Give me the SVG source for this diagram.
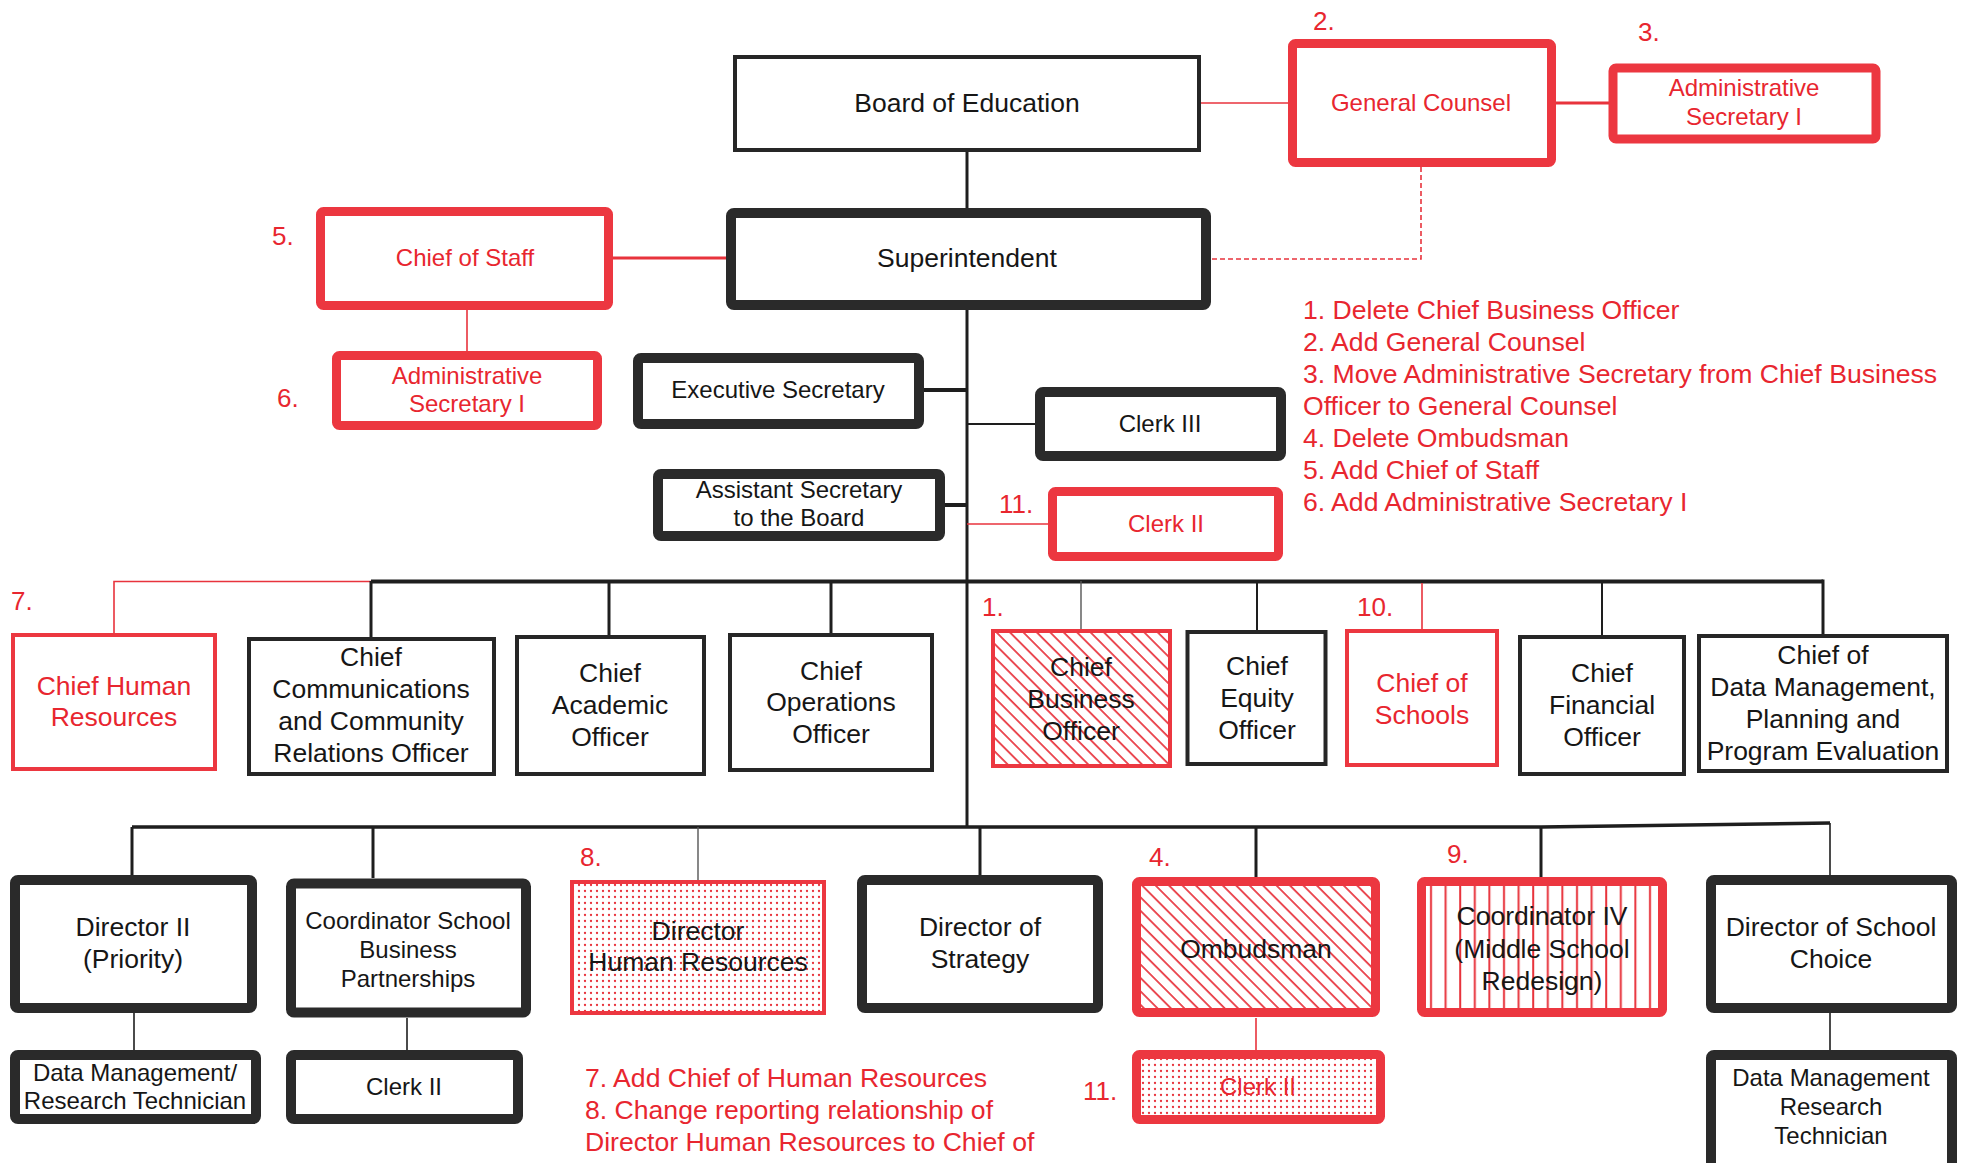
<svg xmlns="http://www.w3.org/2000/svg" width="1965" height="1163" viewBox="0 0 1965 1163">
<style>
text{font-family:"Liberation Sans",Arial,sans-serif;}
.t{fill:#161616;text-anchor:middle;font-size:26.5px;}
.s{font-size:24px;}
.rt{fill:#e8262f;}
.n{fill:#e8262f;font-size:26px;}
.nt{fill:#e8262f;font-size:26.6px;}
.box{fill:#fff;}
.bthin{stroke:#262626;stroke-width:4;}
.bthick{stroke:#2a2a2a;stroke-width:10;}
.rthick{stroke:#ec3740;stroke-width:9;}
.rthin{stroke:#ec3740;stroke-width:4;}
.cb{stroke:#1e1e1e;fill:none;}
.cr{stroke:#e8333c;fill:none;}
</style>
<defs>
<pattern id="hatch" patternUnits="userSpaceOnUse" width="9.5" height="9.5" patternTransform="rotate(-45)">
<rect width="9.5" height="9.5" fill="#fff"/>
<line x1="1" y1="0" x2="1" y2="9.5" stroke="#e8333c" stroke-width="1.7"/>
</pattern>
<pattern id="dots" patternUnits="userSpaceOnUse" width="6" height="6">
<rect width="6" height="6" fill="#fff"/>
<circle cx="3" cy="3" r="1.15" fill="#e8333c"/>
</pattern>
<pattern id="vstripe" patternUnits="userSpaceOnUse" width="14.6" height="20" x="1424">
<rect width="14.6" height="20" fill="#fff"/>
<line x1="7" y1="0" x2="7" y2="20" stroke="#e8333c" stroke-width="2"/>
</pattern>
</defs>

<g id="connectors">
<line class="cr" x1="1201" y1="103" x2="1288" y2="103" stroke-width="1.6"/>
<line class="cr" x1="1556" y1="103" x2="1609" y2="103" stroke-width="3"/>
<polyline class="cr" points="1421,167 1421,259 1211,259" stroke-width="1.6" stroke-dasharray="5,3"/>
<line class="cb" x1="967" y1="152" x2="967" y2="208" stroke-width="3"/>
<line class="cr" x1="613" y1="258" x2="726" y2="258" stroke-width="3"/>
<line class="cr" x1="467" y1="310" x2="467" y2="351" stroke-width="1.6"/>
<line class="cb" x1="967" y1="310" x2="967" y2="827" stroke-width="3"/>
<line class="cb" x1="924" y1="390" x2="967" y2="390" stroke-width="4"/>
<line class="cb" x1="967" y1="424" x2="1035" y2="424" stroke-width="2"/>
<line class="cb" x1="945" y1="505" x2="967" y2="505" stroke-width="4"/>
<line class="cr" x1="967" y1="524" x2="1048" y2="524" stroke-width="1.6"/>
<line class="cb" x1="371" y1="581.5" x2="1823" y2="581.5" stroke-width="4"/>
<polyline class="cr" points="371,581.5 114,581.5 114,633" stroke-width="1.6"/>
<line class="cb" x1="371" y1="581" x2="371" y2="637" stroke-width="3"/>
<line class="cb" x1="609" y1="581" x2="609" y2="635" stroke-width="3"/>
<line class="cb" x1="831" y1="581" x2="831" y2="633" stroke-width="3"/>
<line x1="1081" y1="581" x2="1081" y2="629" stroke="#555" stroke-width="1.4"/>
<line class="cb" x1="1257" y1="581" x2="1257" y2="630" stroke-width="2"/>
<line class="cr" x1="1422" y1="583" x2="1422" y2="629" stroke-width="1.6"/>
<line class="cb" x1="1602" y1="581" x2="1602" y2="635" stroke-width="2"/>
<line class="cb" x1="1823" y1="579.5" x2="1823" y2="634" stroke-width="3"/>
<polyline class="cb" points="132,827 1541,827 1830,823" stroke-width="3.5"/>
<line class="cb" x1="132" y1="827" x2="132" y2="875" stroke-width="3"/>
<line class="cb" x1="134" y1="1013" x2="134" y2="1050" stroke-width="1.6"/>
<line class="cb" x1="373" y1="827" x2="373" y2="878" stroke-width="3"/>
<line class="cb" x1="407" y1="1018" x2="407" y2="1050" stroke-width="1.6"/>
<line x1="698" y1="827" x2="698" y2="880" stroke="#555" stroke-width="1.4"/>
<line class="cb" x1="980" y1="827" x2="980" y2="875" stroke-width="3"/>
<line class="cb" x1="1256" y1="827" x2="1256" y2="877" stroke-width="3"/>
<line class="cr" x1="1256" y1="1018" x2="1256" y2="1050" stroke-width="1.6"/>
<line class="cb" x1="1541" y1="827" x2="1541" y2="877" stroke-width="3"/>
<line class="cb" x1="1830" y1="823" x2="1830" y2="875" stroke-width="1.6"/>
<line class="cb" x1="1830" y1="1013" x2="1830" y2="1050" stroke-width="1.6"/>
</g>

<g id="board"><rect class="box bthin" x="735" y="57" width="464" height="93"/><text class="t" x="967" y="112">Board of Education</text></g>
<g id="general-counsel"><rect class="box rthick" x="1292.5" y="43.5" width="259" height="119" rx="3"/><text class="t s rt" x="1421" y="111">General Counsel</text><text class="n" x="1313" y="30">2.</text></g>
<g id="admin-sec-gc"><rect class="box rthick" x="1613" y="68" width="263" height="71" rx="3"/><text class="t s rt" x="1744" y="96">Administrative</text><text class="t s rt" x="1744" y="125">Secretary I</text><text class="n" x="1638" y="41">3.</text></g>
<g id="superintendent"><rect class="box bthick" x="731" y="213" width="475" height="92" rx="3"/><text class="t" x="967" y="267">Superintendent</text></g>
<g id="chief-of-staff"><rect class="box rthick" x="320.5" y="211.5" width="288" height="94" rx="3"/><text class="t s rt" x="465" y="266">Chief of Staff</text><text class="n" x="272" y="245">5.</text></g>
<g id="admin-sec-cos"><rect class="box rthick" x="336.5" y="355.5" width="261" height="70" rx="3"/><text class="t s rt" x="467" y="384">Administrative</text><text class="t s rt" x="467" y="412">Secretary I</text><text class="n" x="277" y="407">6.</text></g>
<g id="exec-sec"><rect class="box bthick" x="638" y="358" width="281" height="66" rx="3"/><text class="t s" x="778" y="398">Executive Secretary</text></g>
<g id="clerk-iii"><rect class="box bthick" x="1040" y="392" width="241" height="64" rx="3"/><text class="t s" x="1160" y="432">Clerk III</text></g>
<g id="asst-sec-board"><rect class="box bthick" x="658" y="474" width="282" height="62" rx="3"/><text class="t s" x="799" y="498">Assistant Secretary</text><text class="t s" x="799" y="526">to the Board</text></g>
<g id="clerk-ii-top"><rect class="box rthick" x="1052.5" y="491.5" width="226" height="65" rx="3"/><text class="t s rt" x="1166" y="532">Clerk II</text><text class="n" x="999" y="513">11.</text></g>

<g id="notes-top" class="nt">
<text x="1303" y="319">1. Delete Chief Business Officer</text>
<text x="1303" y="351">2. Add General Counsel</text>
<text x="1303" y="383">3. Move Administrative Secretary from Chief Business</text>
<text x="1303" y="415">Officer to General Counsel</text>
<text x="1303" y="447">4. Delete Ombudsman</text>
<text x="1303" y="479">5. Add Chief of Staff</text>
<text x="1303" y="511">6. Add Administrative Secretary I</text>
</g>

<g id="chief-hr"><rect class="box rthin" x="13" y="635" width="202" height="134"/><text class="t rt" x="114" y="695">Chief Human</text><text class="t rt" x="114" y="726">Resources</text><text class="n" x="11" y="610">7.</text></g>
<g id="chief-comm"><rect class="box bthin" x="249" y="639" width="245" height="135"/><text class="t" x="371" y="666">Chief</text><text class="t" x="371" y="698">Communications</text><text class="t" x="371" y="730">and Community</text><text class="t" x="371" y="762">Relations Officer</text></g>
<g id="chief-academic"><rect class="box bthin" x="517" y="637" width="187" height="137"/><text class="t" x="610" y="682">Chief</text><text class="t" x="610" y="714">Academic</text><text class="t" x="610" y="746">Officer</text></g>
<g id="chief-operations"><rect class="box bthin" x="730" y="635" width="202" height="135"/><text class="t" x="831" y="680">Chief</text><text class="t" x="831" y="711">Operations</text><text class="t" x="831" y="743">Officer</text></g>
<g id="chief-business"><rect x="993" y="631" width="177" height="135" fill="url(#hatch)" stroke="#ec3740" stroke-width="4"/><text class="t" x="1081" y="676">Chief</text><text class="t" x="1081" y="708">Business</text><text class="t" x="1081" y="740">Officer</text><text class="n" x="982" y="616">1.</text></g>
<g id="chief-equity"><rect class="box bthin" x="1187.5" y="632" width="138" height="132"/><text class="t" x="1257" y="675">Chief</text><text class="t" x="1257" y="707">Equity</text><text class="t" x="1257" y="739">Officer</text></g>
<g id="chief-schools"><rect class="box rthin" x="1347" y="631" width="150" height="134"/><text class="t rt" x="1422" y="692">Chief of</text><text class="t rt" x="1422" y="724">Schools</text><text class="n" x="1357" y="616">10.</text></g>
<g id="chief-financial"><rect class="box bthin" x="1520" y="637" width="164" height="137"/><text class="t" x="1602" y="682">Chief</text><text class="t" x="1602" y="714">Financial</text><text class="t" x="1602" y="746">Officer</text></g>
<g id="chief-data"><rect class="box bthin" x="1699" y="636" width="248" height="135"/><text class="t" x="1823" y="664">Chief of</text><text class="t" x="1823" y="696">Data Management,</text><text class="t" x="1823" y="728">Planning and</text><text class="t" x="1823" y="760">Program Evaluation</text></g>

<g id="director-ii"><rect class="box bthick" x="15" y="880" width="237" height="128" rx="3"/><text class="t" x="133" y="936">Director II</text><text class="t" x="133" y="968">(Priority)</text></g>
<g id="dm-tech-left"><rect class="box bthick" x="15" y="1055" width="241" height="64" rx="3"/><text class="t s" x="135" y="1081">Data Management/</text><text class="t s" x="135" y="1109">Research Technician</text></g>
<g id="coord-sbp"><rect class="box bthick" x="291" y="883.5" width="235" height="129" rx="3"/><text class="t s" x="408" y="929">Coordinator School</text><text class="t s" x="408" y="958">Business</text><text class="t s" x="408" y="987">Partnerships</text></g>
<g id="clerk-ii-black"><rect class="box bthick" x="291" y="1055" width="227" height="64" rx="3"/><text class="t s" x="404" y="1095">Clerk II</text></g>
<g id="director-hr"><rect x="572" y="882" width="252" height="131" fill="url(#dots)" stroke="#ec3740" stroke-width="4"/><text class="t" x="698" y="940">Director</text><text class="t" x="698" y="971">Human Resources</text><text class="n" x="580" y="866">8.</text></g>
<g id="director-strategy"><rect class="box bthick" x="862" y="880" width="236" height="128" rx="3"/><text class="t" x="980" y="936">Director of</text><text class="t" x="980" y="968">Strategy</text></g>
<g id="ombudsman"><rect x="1136.5" y="881.5" width="239" height="131" rx="3" fill="url(#hatch)" stroke="#ec3740" stroke-width="9"/><text class="t" x="1256" y="958">Ombudsman</text><text class="n" x="1149" y="866">4.</text></g>
<g id="clerk-ii-red"><rect x="1136.5" y="1054.5" width="244" height="65" rx="3" fill="url(#dots)" stroke="#ec3740" stroke-width="9"/><text class="t s rt" x="1258" y="1095">Clerk II</text><text class="n" x="1083" y="1100">11.</text></g>
<g id="coord-iv"><rect x="1421.5" y="881.5" width="241" height="131" rx="3" fill="url(#vstripe)" stroke="#ec3740" stroke-width="9"/><text class="t" x="1542" y="925">Coordinator IV</text><text class="t" x="1542" y="958">(Middle School</text><text class="t" x="1542" y="990">Redesign)</text><text class="n" x="1447" y="863">9.</text></g>
<g id="director-school-choice"><rect class="box bthick" x="1711" y="880" width="241" height="128" rx="3"/><text class="t" x="1831" y="936">Director of School</text><text class="t" x="1831" y="968">Choice</text></g>
<g id="dm-tech-right"><rect class="box bthick" x="1711" y="1055" width="241" height="120" rx="3"/><text class="t s" x="1831" y="1086">Data Management</text><text class="t s" x="1831" y="1115">Research</text><text class="t s" x="1831" y="1144">Technician</text></g>

<g id="notes-bottom" class="nt">
<text x="585" y="1087">7. Add Chief of Human Resources</text>
<text x="585" y="1119">8. Change reporting relationship of</text>
<text x="585" y="1151">Director Human Resources to Chief of</text>
</g>
</svg>
